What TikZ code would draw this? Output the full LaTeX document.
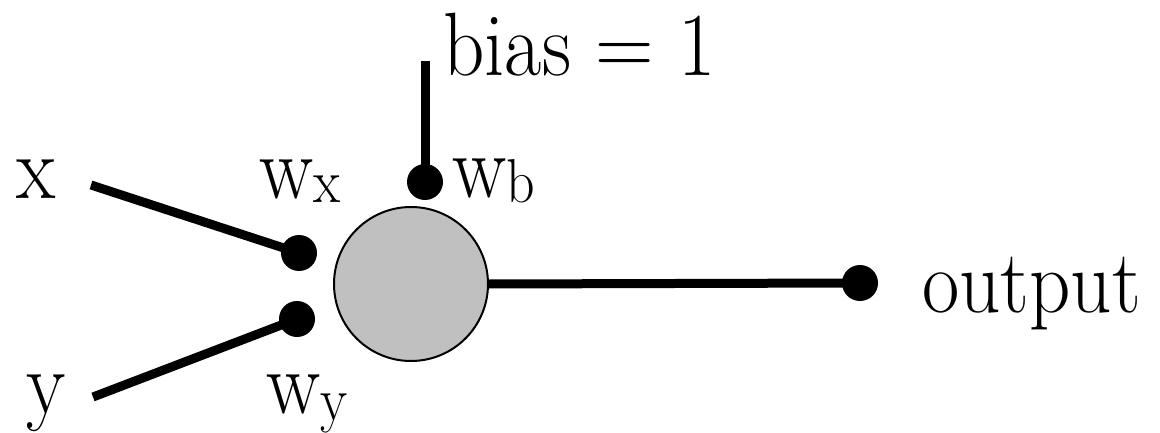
\documentclass[tikz,border=0pt]{standalone}
\definecolor{neurongray}{RGB}{192,192,192}
\begin{document}
\begin{tikzpicture}[x=1pt,y=-1pt,
  lbl/.style={anchor=base west,inner sep=0pt,transform shape,xscale=0.9,font=\fontsize{90}{90}\selectfont},
  dotnode/.style={circle,fill=black,inner sep=0pt,minimum size=36pt},
  wire/.style={line width=9pt},
  neuron/.style={circle,draw=black,line width=2pt,fill=neurongray,minimum size=154pt,inner sep=0pt}]
\useasboundingbox (0,0) rectangle (1160,433);
\newcommand{\subsc}[2]{\raisebox{#1}{\fontsize{62}{62}\selectfont #2}}
% neuron
\node[neuron] (c) at (411,284) {};
% dots
\node[dotnode] (dx) at (299,253) {};
\node[dotnode] (dy) at (297,319) {};
\node[dotnode] (db) at (425,182) {};
\node[dotnode] (do) at (860,283) {};
% labels
\node[lbl] (tx) at (16,198) {x};
\node[lbl] (ty) at (26,413) {y};
\node[lbl] (wx) at (259,198) {w\subsc{-5pt}{x}};
\node[lbl] (wb) at (452,197) {w\subsc{-5pt}{b}};
\node[lbl] (wy) at (266,413) {w\subsc{-7pt}{y}};
\node[lbl] (bias) at (443,76) {bias = 1};
\node[lbl] (out) at (922,312) {output};
% wire start points
\coordinate (sx) at (91,185);
\coordinate (sy) at (93,397);
\coordinate (sb) at (425,61);
% wires
\draw[wire] (sx) -- (dx.center);
\draw[wire] (sy) -- (dy.center);
\draw[wire] (sb) -- (db.center);
\draw[wire] (c.east) -- (do.center);
\end{tikzpicture}
\end{document}
